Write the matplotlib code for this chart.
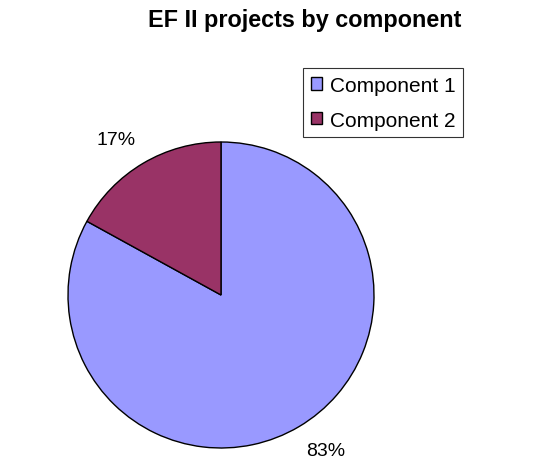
import matplotlib
matplotlib.use("Agg")
import matplotlib.pyplot as plt
import numpy as np

# data
components = ["Component 1", "Component 2"]
shares = [83, 17]
colors = ["#9999FF", "#993366"]

W, H = 552, 477
plt.rcParams["font.family"] = ["Liberation Sans", "DejaVu Sans"]

fig = plt.figure(figsize=(W / 100, H / 100), dpi=100)

# pie centre ~ (221, 296) px, radius ~153 px
cx, cy, r = 221, 296, 153
ax = fig.add_axes([(cx - r) / W, (H - cy - r) / H, 2 * r / W, 2 * r / H])

wedges, texts, autotexts = ax.pie(
    shares,
    colors=colors,
    startangle=90,
    counterclock=False,
    autopct="%1.0f%%",
    pctdistance=1.23,
    wedgeprops=dict(edgecolor="black", linewidth=1.0),
    textprops=dict(fontsize=14, color="black"),
)
# Excel puts the labels a little counter-clockwise of the wedge middle
for w, t in zip(wedges, autotexts):
    ang = np.deg2rad((w.theta1 + w.theta2) / 2 + 3.3)
    t.set_position((1.225 * np.cos(ang), 1.225 * np.sin(ang)))
ax.set_xlim(-1, 1)
ax.set_ylim(-1, 1)
ax.set_aspect("equal")

fig.text(305 / W, 1 - 27 / H, "EF II projects by component",
         ha="center", va="baseline", fontsize=16.8, fontweight="bold")

leg = fig.legend(
    wedges, components,
    loc="upper left",
    bbox_to_anchor=(303 / W, 1 - 69 / H),
    borderaxespad=0,
    frameon=True,
    fancybox=False,
    edgecolor="black",
    fontsize=15,
    handlelength=0.53,
    handleheight=0.53,
    handletextpad=0.38,
    labelspacing=0.75,
    borderpad=0.38,
)
leg.get_frame().set_linewidth(0.8)
for h in leg.legend_handles:
    h.set_edgecolor("black")
    h.set_linewidth(1.0)

fig.savefig("out.png", dpi=100)
